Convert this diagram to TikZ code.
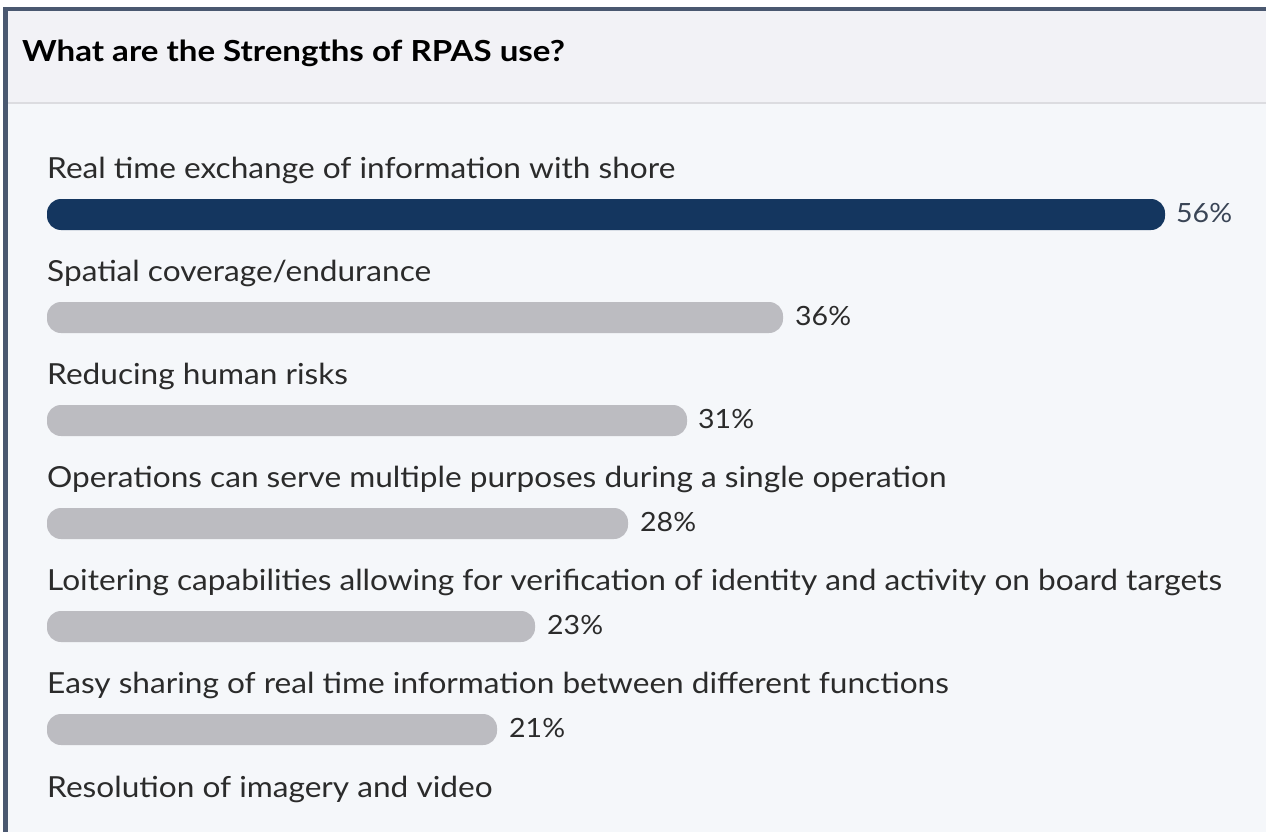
\documentclass[tikz,border=0pt]{standalone}
\usepackage{fontspec}
\setmainfont{Lato}
\newfontfamily\lblfont{Lato}[FakeStretch=1.09]
\newfontfamily\pctfont{Lato}[FakeStretch=1.075]
\newfontfamily\ttlfont{Lato}[FakeStretch=1.14]
\definecolor{frame}{HTML}{4A5870}
\definecolor{headbg}{HTML}{F2F2F6}
\definecolor{bodybg}{HTML}{F5F7FA}
\definecolor{sepline}{HTML}{DCDCE0}
\definecolor{txt}{HTML}{2B2B2B}
\definecolor{navy}{HTML}{14365F}
\definecolor{pctnavy}{HTML}{3A4556}
\definecolor{barg}{HTML}{BCBCC1}
\tikzset{
  lbl/.style={anchor=base west, inner sep=0pt, font=\lblfont\fontsize{29}{32}\selectfont, text=txt},
  pct/.style={anchor=base west, inner sep=0pt, font=\pctfont\fontsize{26.5}{30}\selectfont, text=txt},
  barbox/.style={rounded corners=14pt, fill=barg},
}
\begin{document}
\begin{tikzpicture}[x=1pt,y=-1pt]
\useasboundingbox (0,0) rectangle (1266,832);
\fill[white] (0,0) rectangle (1266,832);
\fill[bodybg] (3,103) rectangle (1266,832);
\fill[headbg] (3,7) rectangle (1266,103);
\fill[sepline] (8,102) rectangle (1266,104.5);
\fill[frame] (3,7) rectangle (8,832);
\fill[frame] (3,7) rectangle (1266,11.5);
\node[anchor=base west, inner sep=0pt, font=\ttlfont\fontsize{29}{32}\selectfont\bfseries, text=black] (title) at (22,62) {What are the Strengths of RPAS use?};
% row 1
\node[lbl] (l1) at (47,178) {Real time exchange of information with shore};
\fill[navy, rounded corners=14pt] (47,199) rectangle (1165,230);
\node[pct, text=pctnavy] (p1) at (1176,222) {56\%};
% row 2
\node[lbl] (l2) at (47,281) {Spatial coverage/endurance};
\fill[barbox] (47,302) rectangle (783,333);
\node[pct] (p2) at (795,325) {36\%};
% row 3
\node[lbl] (l3) at (47,384) {Reducing human risks};
\fill[barbox] (47,405) rectangle (687,436);
\node[pct] (p3) at (698,428) {31\%};
% row 4
\node[lbl] (l4) at (47,487) {Operations can serve multiple purposes during a single operation};
\fill[barbox] (47,508) rectangle (628,539);
\node[pct] (p4) at (640,531) {28\%};
% row 5
\node[lbl] (l5) at (47,590) {Loitering capabilities allowing for verification of identity and activity on board targets};
\fill[barbox] (47,611) rectangle (535,642);
\node[pct] (p5) at (547,634) {23\%};
% row 6
\node[lbl] (l6) at (47,693) {Easy sharing of real time information between different functions};
\fill[barbox] (47,714) rectangle (497,745);
\node[pct] (p6) at (509,737) {21\%};
% row 7
\node[lbl] (l7) at (47,797) {Resolution of imagery and video};
\end{tikzpicture}
\end{document}
